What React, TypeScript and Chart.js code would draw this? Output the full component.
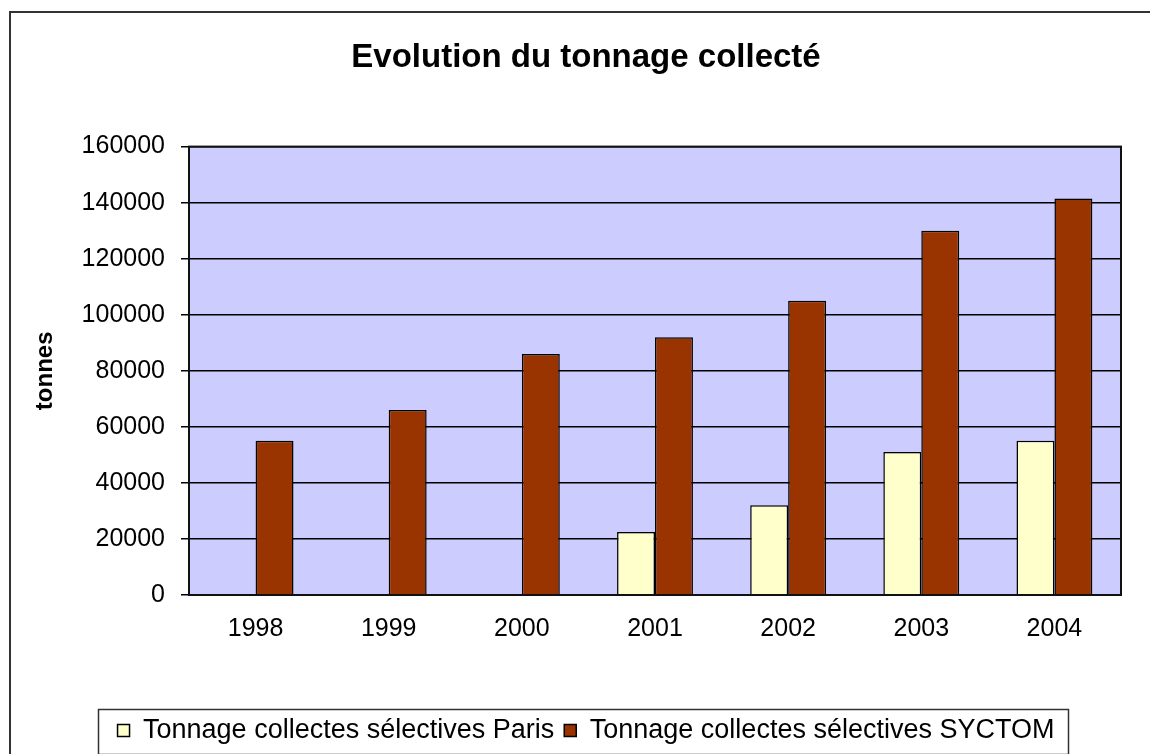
import React, { useEffect, useRef } from "react";
import { Chart, registerables } from "chart.js";

Chart.register(...registerables);

const years = ["1998", "1999", "2000", "2001", "2002", "2003", "2004"];
const parisValues = [0, 0, 0, 22500, 32000, 51000, 55000];
const syctomValues = [55000, 66000, 86000, 92000, 105000, 130000, 141500];
const seriesLabels = [
  "Tonnage collectes sélectives Paris",
  "Tonnage collectes sélectives SYCTOM",
];
const titleText = "Evolution du tonnage collecté";
const yAxisTitle = "tonnes";

const FONT = "'Liberation Sans', Arial, sans-serif";
const LEFT_PAD = 51;

const decorPlugin = {
  id: "decor",
  beforeDraw(chart: any) {
    const { ctx, chartArea } = chart;
    ctx.save();
    ctx.fillStyle = "#ffffff";
    ctx.fillRect(0, 0, chart.width, chart.height);
    ctx.fillStyle = "#ccccff";
    ctx.fillRect(chartArea.left, chartArea.top, chartArea.right - chartArea.left, chartArea.bottom - chartArea.top);
    ctx.restore();
  },
  afterDraw(chart: any) {
    const { ctx, chartArea, legend } = chart;
    ctx.save();
    // outer frame
    ctx.strokeStyle = "#333333";
    ctx.lineWidth = 2;
    ctx.strokeRect(10, 12, 1300, 900);
    // plot border
    ctx.strokeStyle = "#111111";
    ctx.lineWidth = 2;
    ctx.strokeRect(chartArea.left, chartArea.top, chartArea.right - chartArea.left, chartArea.bottom - chartArea.top);
    // legend border
    if (legend && legend.legendHitBoxes && legend.legendHitBoxes.length) {
      const hb = legend.legendHitBoxes;
      let l = Infinity, r = -Infinity, t = Infinity, b = -Infinity;
      hb.forEach((h: any) => {
        l = Math.min(l, h.left);
        r = Math.max(r, h.left + h.width);
        t = Math.min(t, h.top);
        b = Math.max(b, h.top + h.height);
      });
      const cy = (t + b) / 2;
      ctx.strokeStyle = "#333333";
      ctx.lineWidth = 1.5;
      ctx.strokeRect(Math.round(l - 20) + 0.5, Math.round(cy - 22) + 0.5, Math.round(r - l + 33), 45);
    }
    ctx.restore();
  },
};

export default function App() {
  const ref = useRef<HTMLCanvasElement>(null);
  useEffect(() => {
    if (!ref.current) return;
    const chart = new Chart(ref.current, {
      type: "bar",
      data: {
        labels: years,
        datasets: [
          {
            label: seriesLabels[0],
            data: parisValues,
            backgroundColor: "#ffffcc",
            borderColor: "#000000",
            borderWidth: 1.5,
            categoryPercentage: 0.57,
            barPercentage: 1,
          },
          {
            label: seriesLabels[1],
            data: syctomValues,
            backgroundColor: "#993300",
            borderColor: "#000000",
            borderWidth: 1.5,
            categoryPercentage: 0.57,
            barPercentage: 1,
          },
        ],
      },
      options: {
        animation: false,
        responsive: false,
        maintainAspectRatio: false,
        layout: { padding: { left: LEFT_PAD, right: 29, top: 12, bottom: 0 } },
        plugins: {
          title: {
            display: true,
            text: titleText,
            color: "#000",
            font: { family: FONT, size: 33, weight: "bold" },
            padding: { top: 26, bottom: 69 },
          },
          legend: {
            display: true,
            position: "bottom",
            labels: {
              color: "#000",
              font: { family: FONT, size: 27 },
              boxWidth: 12,
              boxHeight: 12,
              padding: 10,
            },
          },
          tooltip: { enabled: false },
        },
        scales: {
          x: {
            grid: { display: false, drawTicks: false },
            border: { display: false },
            ticks: { color: "#000", font: { family: FONT, size: 25 }, padding: 19 },
            afterFit: (s: any) => {
              s.height = 112;
            },
          },
          y: {
            min: 0,
            max: 160000,
            grid: { color: "#000", lineWidth: 1.5, tickLength: 8, tickColor: "#000" },
            border: { display: false },
            ticks: {
              stepSize: 20000,
              color: "#000",
              font: { family: FONT, size: 25 },
              padding: 16,
              callback: (v: any) => String(v),
            },
            title: {
              display: true,
              text: yAxisTitle,
              color: "#000",
              font: { family: FONT, size: 24, weight: "bold" },
              padding: { top: -20, bottom: 0 },
            },
            afterFit: (s: any) => {
              s.width = 189 - LEFT_PAD;
            },
          },
        },
      },
      plugins: [decorPlugin],
    });
    return () => chart.destroy();
  }, []);
  return (
    <div style={{ position: "absolute", left: 0, top: 0, width: 1150, height: 754 }}>
      <canvas ref={ref} width={1150} height={754} style={{ display: "block" }} />
    </div>
  );
}
